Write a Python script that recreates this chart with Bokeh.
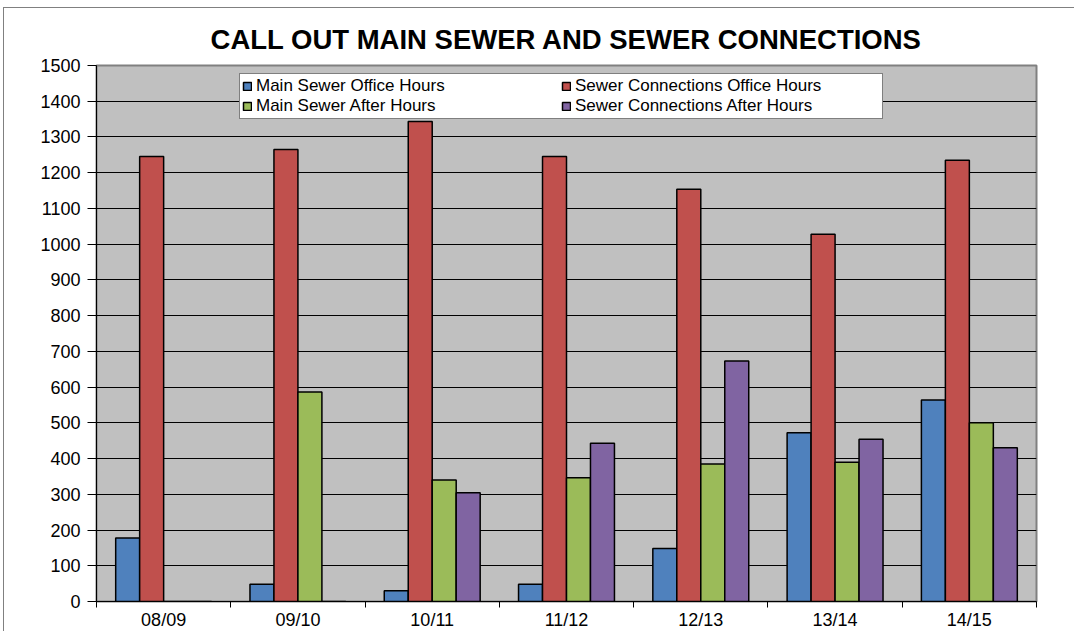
from bokeh.plotting import figure
from bokeh.models import ColumnDataSource, FixedTicker, Legend, LegendItem, Range1d
from bokeh.embed import file_html
from bokeh.resources import INLINE

years = ["08/09", "09/10", "10/11", "11/12", "12/13", "13/14", "14/15"]
main_office = [178, 48, 30, 48, 148, 472, 564]
conn_office = [1245, 1265, 1343, 1245, 1154, 1028, 1235]
main_after = [0, 586, 340, 346, 385, 390, 500]
conn_after = [0, 0, 304, 443, 673, 454, 430]
y_ticks = list(range(0, 1600, 100))

series = [
    ("Main Sewer Office Hours", main_office, "#4F81BD"),
    ("Sewer Connections Office Hours", conn_office, "#C0504D"),
    ("Main Sewer After Hours", main_after, "#9BBB59"),
    ("Sewer Connections After Hours", conn_after, "#8064A2"),
]

FONT = "Liberation Sans"
n = len(years)
bw = 1 / 5.6
offsets = [-1.5 * bw, -0.5 * bw, 0.5 * bw, 1.5 * bw]

p = figure(width=1071, height=624, output_backend="svg", toolbar_location=None,
           x_range=Range1d(0, n), y_range=Range1d(0, 1500),
           min_border_left=92, min_border_right=39, min_border_top=57, min_border_bottom=30)
p.styles = {"margin-left": "3px", "margin-top": "7px",
            "border-left": "1px solid #808080", "border-top": "1px solid #808080"}

p.title.text = "CALL OUT MAIN SEWER AND SEWER CONNECTIONS"
p.title.align = "center"
p.title.text_font = FONT
p.title.text_font_size = "27.5px"
p.title.text_font_style = "bold"
p.title.text_color = "black"
p.title.standoff = 21

p.background_fill_color = "#C0C0C0"
p.border_fill_color = "white"
p.outline_line_color = "#808080"
p.outline_line_width = 2

renderers = []
for (name, vals, color), off in zip(series, offsets):
    src = ColumnDataSource(dict(x=[i + 0.5 + off for i in range(n)], top=vals))
    r = p.vbar(x="x", top="top", width=bw, bottom=0, source=src,
               fill_color=color, line_color="black", line_width=1.5)
    renderers.append((name, r))

# axes
p.xgrid.visible = False
p.ygrid.grid_line_color = "black"
p.ygrid.grid_line_width = 1
p.ygrid.ticker = FixedTicker(ticks=y_ticks)

p.yaxis.ticker = FixedTicker(ticks=y_ticks)
p.yaxis.axis_line_color = "black"
p.yaxis.major_tick_line_color = "black"
p.yaxis.major_tick_out = 9
p.yaxis.major_tick_in = 0
p.yaxis.minor_tick_line_color = None
p.yaxis.major_label_text_font = FONT
p.yaxis.major_label_text_font_size = "18px"
p.yaxis.major_label_text_color = "black"
p.yaxis.major_label_standoff = 7

p.xaxis.ticker = FixedTicker(ticks=[i + 0.5 for i in range(n)],
                             minor_ticks=list(range(n + 1)))
p.xaxis.major_label_overrides = {i + 0.5: y for i, y in enumerate(years)}
p.xaxis.axis_line_color = "black"
p.xaxis.major_tick_line_color = None
p.xaxis.minor_tick_line_color = "black"
p.xaxis.minor_tick_out = 6
p.xaxis.minor_tick_in = 0
p.xaxis.major_label_text_font = FONT
p.xaxis.major_label_text_font_size = "18px"
p.xaxis.major_label_text_color = "black"
p.xaxis.major_label_standoff = 2

legend = Legend(items=[LegendItem(label=nm, renderers=[r]) for nm, r in renderers],
                orientation="horizontal", ncols=2,
                location=(143, 482), spacing=0, padding=2, margin=0,
                glyph_width=10, glyph_height=10, label_standoff=4,
                label_width=305, label_height=14,
                label_text_font=FONT, label_text_font_size="17px",
                label_text_color="black",
                border_line_color="black", border_line_width=1,
                background_fill_color="white", background_fill_alpha=1)
p.add_layout(legend, "center")

open("out.html", "w").write(file_html(p, INLINE))
